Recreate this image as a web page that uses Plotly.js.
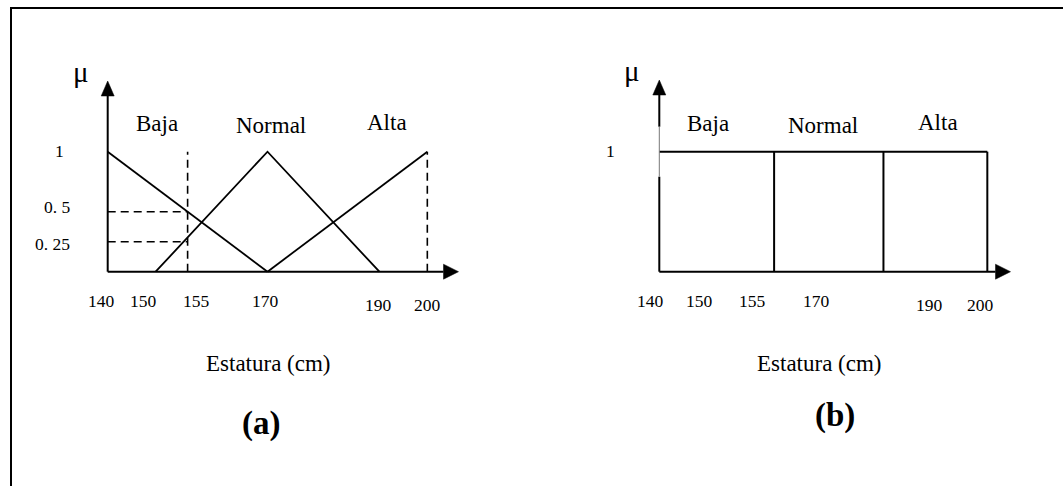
<!DOCTYPE html>
<html>
<head>
<meta charset="utf-8">
<script src="https://cdn.plot.ly/plotly-3.0.1.min.js"></script>
<style>
  html, body { margin: 0; padding: 0; background: #fff; }
  #chart { width: 1063px; height: 486px; }
</style>
</head>
<body>
<div id="chart"></div>
<script>
// ---- Data: fuzzy sets for height (cm) vs membership degree (mu) ----
const setNames = ['Baja', 'Normal', 'Alta'];
const bajaX = [140, 170];
const bajaMu = [1, 0];
const normalX = [149, 170, 191];
const normalMu = [0, 1, 0];
const altaX = [170, 200];
const altaMu = [0, 1];

// Reading of membership at 155 cm (Baja = 0.5, Normal = 0.25)
const cutX = 155;
const cutMu = [0.5, 0.25];
const alturaMin = 140;
const alturaMax = 200;

// Crisp partition used in (b)
const crispEdges = [140, 161, 181, 200];
const crispMu = 1;

// Tick labels
const xTickText = ['140', '150', '155', '170', '190', '200'];
const yTickTextA = ['1', '0. 5', '0. 25'];
const yTickTextB = ['1'];

// ---- Layout geometry (pixels) ----
const W = 1063, H = 486;
const FONT = '"Liberation Serif", "Times New Roman", Times, serif';
const panels = {
  a: { x0: 107.7, kx: 5.327, y0: 271.7, ky: 120, box: [60, 60, 475, 330],
       xEnd: 443.5, yEnd: 96,
       xLab: [101, 143.3, 196.7, 265, 378.3, 427.7],
       yLab: [[59.1, 151], [57.8, 207], [52.7, 244.3]],
       names: [[156.7, 123.3], [270.7, 125], [386.7, 122.7]],
       mu: [81, 72], title: [268.6, 363.3], tag: [261, 423], tagText: '(a)' },
  b: { x0: 659.3, kx: 5.467, y0: 271.7, ky: 120, box: [600, 60, 1030, 330],
       xEnd: 995.5, yEnd: 95,
       xLab: [650.7, 699, 752.7, 816.7, 929.3, 980],
       yLab: [[610.3, 151]],
       names: [[708.3, 123.3], [822.7, 125], [938.3, 122.7]],
       mu: [631.7, 71], title: [819.8, 363.3], tag: [835, 415], tagText: '(b)' }
};
const labRow = [301, 301, 301, 301, 305, 305];

function toX(p, px) { return alturaMin + (px - p.x0) / p.kx; }
function toY(p, py) { return (p.y0 - py) / p.ky; }
function axesFor(p, yname) {
  const [l, t, r, b] = p.box;
  return {
    x: { domain: [l / W, r / W], range: [toX(p, l), toX(p, r)], visible: false, fixedrange: true, anchor: yname },
    y: { domain: [1 - b / H, 1 - t / H], range: [toY(p, b), toY(p, t)], visible: false, fixedrange: true }
  };
}

const solid = { color: '#000', width: 1.8 };
const axisLine = { color: '#000', width: 2 };
const dashed = { color: '#000', width: 1.6, dash: '8px,5px' };

function line(x, y, xa, ya, style) {
  return { type: 'scatter', mode: 'lines', x: x, y: y, xaxis: xa, yaxis: ya,
           line: style, hoverinfo: 'skip', showlegend: false, connectgaps: false };
}

const A = panels.a, B = panels.b;
const traces = [];

// Panel (a): membership functions
traces.push(line(bajaX, bajaMu, 'x', 'y', solid));
traces.push(line(normalX, normalMu, 'x', 'y', solid));
traces.push(line(altaX, altaMu, 'x', 'y', solid));
// dashed guides
traces.push(line([cutX, cutX], [0, 1], 'x', 'y', dashed));
traces.push(line([alturaMax, alturaMax], [0, 1], 'x', 'y', dashed));
cutMu.forEach(m => traces.push(line([alturaMin, cutX], [m, m], 'x', 'y', dashed)));
// axes
traces.push(line([alturaMin, toX(A, A.xEnd)], [0, 0], 'x', 'y', axisLine));
traces.push(line([alturaMin, alturaMin], [0, toY(A, A.yEnd)], 'x', 'y', axisLine));

// Panel (b): crisp sets as adjoining rectangles
const bx = [], by = [];
bx.push(crispEdges[0], crispEdges[crispEdges.length - 1], null);
by.push(crispMu, crispMu, null);
crispEdges.slice(1).forEach(e => { bx.push(e, e, null); by.push(0, crispMu, null); });
traces.push(line(bx, by, 'x2', 'y2', axisLine));
traces.push(line([alturaMin, toX(B, B.xEnd)], [0, 0], 'x2', 'y2', axisLine));
// vertical axis (with its thin stretch around mu = 1)
traces.push(line([alturaMin, alturaMin, null, alturaMin, alturaMin],
                 [0, toY(B, 176.7), null, toY(B, 126.7), toY(B, B.yEnd)], 'x2', 'y2', axisLine));
traces.push(line([alturaMin, alturaMin], [toY(B, 176.7), toY(B, 126.7)], 'x2', 'y2', { color: '#777', width: 1 }));

// Arrowheads at the axis ends
function arrows(p, xr, yr) {
  return [
    { type: 'path', xref: xr, yref: yr, xsizemode: 'pixel', ysizemode: 'pixel',
      xanchor: toX(p, p.xEnd), yanchor: 0, path: 'M0,-7.5L15,0L0,7.5Z',
      fillcolor: '#000', line: { color: '#000', width: 0.5 } },
    { type: 'path', xref: xr, yref: yr, xsizemode: 'pixel', ysizemode: 'pixel',
      xanchor: alturaMin, yanchor: toY(p, p.yEnd), path: 'M-6.5,0L0,15L6.5,0Z',
      fillcolor: '#000', line: { color: '#000', width: 0.5 } }
  ];
}

const shapes = [].concat(arrows(A, 'x', 'y'), arrows(B, 'x2', 'y2'));
// outer frame
shapes.push({ type: 'rect', xref: 'paper', yref: 'paper', x0: 11 / W, x1: 1.05, y0: -0.05, y1: 1 - 8 / H,
              line: { color: '#000', width: 2 }, fillcolor: 'rgba(0,0,0,0)' });

// Text
function txt(px, py, text, size, bold) {
  return { xref: 'paper', yref: 'paper', x: px / W, y: 1 - py / H, xanchor: 'center', yanchor: 'middle',
           text: bold ? '<b>' + text + '</b>' : text, showarrow: false,
           font: { family: FONT, size: size, color: '#000' } };
}
const annotations = [];
[A, B].forEach(p => {
  p.xLab.forEach((px, i) => annotations.push(txt(px, labRow[i], xTickText[i], 17.5)));
  const yt = p === A ? yTickTextA : yTickTextB;
  p.yLab.forEach((pt, i) => annotations.push(txt(pt[0], pt[1], yt[i], 17.5)));
  p.names.forEach((pt, i) => annotations.push(txt(pt[0], pt[1], setNames[i], 23)));
  annotations.push(txt(p.mu[0], p.mu[1], 'μ', 29));
  annotations.push(txt(p.title[0], p.title[1], 'Estatura (cm)', 23));
  annotations.push(txt(p.tag[0], p.tag[1], p.tagText, 33, true));
});

const ax = axesFor(A, 'y'), bx2 = axesFor(B, 'y2');
const layout = {
  width: W, height: H,
  margin: { l: 0, r: 0, t: 0, b: 0 },
  paper_bgcolor: '#fff', plot_bgcolor: 'rgba(0,0,0,0)',
  showlegend: false,
  xaxis: ax.x, yaxis: Object.assign(ax.y, { anchor: 'x' }),
  xaxis2: bx2.x, yaxis2: Object.assign(bx2.y, { anchor: 'x2' }),
  shapes: shapes,
  annotations: annotations
};

Plotly.newPlot('chart', traces, layout, { staticPlot: true, displayModeBar: false });
</script>
</body>
</html>
